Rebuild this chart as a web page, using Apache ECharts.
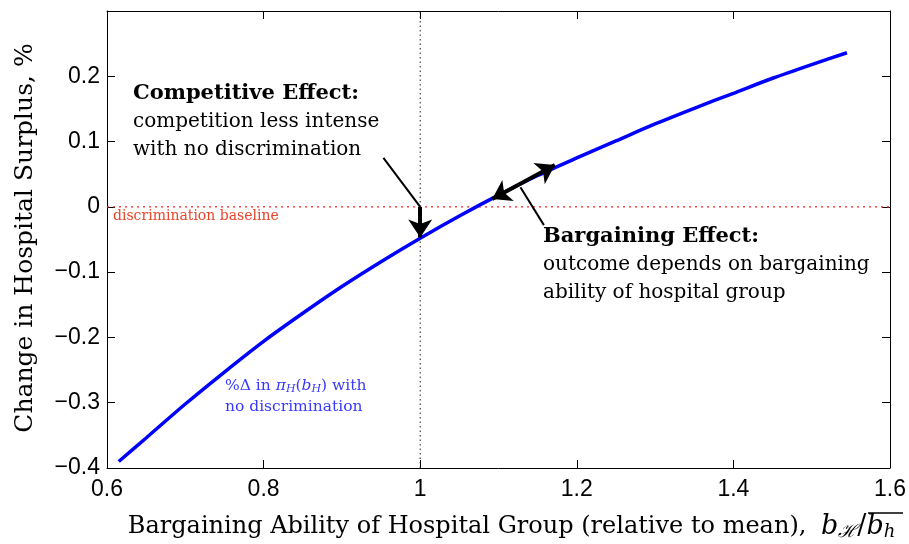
<!DOCTYPE html>
<html>
<head>
<meta charset="utf-8">
<script src="https://cdn.jsdelivr.net/npm/echarts@6/dist/echarts.min.js"></script>
<style>
  html, body { margin: 0; padding: 0; background: #fff; }
  #chart { width: 909px; height: 544px; }
</style>
</head>
<body>
<div id="chart"></div>
<script>
// Relative bargaining ability of the hospital group
var bargainingAbility = [0.615, 0.65, 0.70, 0.75, 0.80, 0.85, 0.90, 0.95, 1.00, 1.05,
                         1.10, 1.15, 1.20, 1.25, 1.30, 1.35, 1.40, 1.45, 1.50, 1.545];
// % change in hospital surplus with no discrimination
var surplusChange = [-0.390, -0.354, -0.302, -0.253, -0.206, -0.163, -0.122, -0.084, -0.048, -0.014,
                     0.018, 0.048, 0.075, 0.101, 0.127, 0.151, 0.174, 0.197, 0.218, 0.236];

// Axis ranges
var xRange = [0.6, 1.6];
var yRange = [-0.4, 0.3];

// Reference lines
var baselineY = 0;
var meanAbility = 1;

// Annotation pointers (data units): [from, to]
var competitivePointer = [[0.953, 0.075], [1.0, 0.0]];
var competitiveArrow = [[1.0, 0.0], [1.0, -0.047]];
var bargainingArrow = [[1.092, 0.012], [1.172, 0.064]];
var bargainingPointer = [[1.128, 0.030], [1.158, -0.028]];

var serif = '"DejaVu Serif", "Liberation Serif", serif';
var sans = '"Liberation Sans", Arial, sans-serif';

function fmt(v) {
  var r = Math.round(v * 10) / 10;
  var s = String(r);
  return r < 0 ? '\u2212' + s.slice(1) : s;
}

var chart = echarts.init(document.getElementById('chart'), null, { renderer: 'canvas' });

var axisLine = { show: true, onZero: false, lineStyle: { color: '#000', width: 1 } };
var tickIn = { show: true, inside: true, length: 8, lineStyle: { color: '#000', width: 1 } };

var option = {
  animation: false,
  backgroundColor: '#fff',
  grid: { left: 107, right: 19, top: 11, bottom: 76, containLabel: false },
  xAxis: [
    {
      type: 'value', position: 'bottom', min: xRange[0], max: xRange[1], interval: 0.2,
      axisLine: axisLine, axisTick: tickIn, splitLine: { show: false },
      axisLabel: { fontFamily: sans, fontSize: 23, color: '#000', margin: 10, formatter: fmt }
    },
    {
      type: 'value', position: 'top', min: xRange[0], max: xRange[1], interval: 0.2,
      axisLine: axisLine, axisTick: tickIn, splitLine: { show: false },
      axisLabel: { show: false }
    }
  ],
  yAxis: [
    {
      type: 'value', position: 'left', min: yRange[0], max: yRange[1], interval: 0.1,
      axisLine: axisLine, axisTick: tickIn, splitLine: { show: false },
      axisLabel: {
        fontFamily: sans, fontSize: 23, color: '#000', margin: 7,
        formatter: function (v) { return Math.abs(v - yRange[1]) < 1e-6 ? '' : fmt(v); }
      }
    },
    {
      type: 'value', position: 'right', min: yRange[0], max: yRange[1], interval: 0.1,
      axisLine: axisLine, axisTick: tickIn, splitLine: { show: false },
      axisLabel: { show: false }
    }
  ],
  series: [
    // discrimination baseline (red dotted)
    {
      type: 'line',
      data: [[xRange[0], baselineY], [xRange[1], baselineY]],
      showSymbol: false, silent: true, z: 1,
      lineStyle: { color: '#ff2020', type: [2, 4], width: 1.3 }
    },
    // mean bargaining ability (black dotted)
    {
      type: 'line',
      data: [[meanAbility, yRange[0]], [meanAbility, yRange[1]]],
      showSymbol: false, silent: true, z: 1,
      lineStyle: { color: '#222', type: [1.5, 3], width: 1 }
    },
    {
      type: 'line',
      data: bargainingAbility.map(function (x, i) { return [x, surplusChange[i]]; }),
      showSymbol: false,
      smooth: 0.3,
      lineStyle: { color: '#0000ff', width: 3.5 },
      z: 3
    },
    {
      type: 'lines',
      coordinateSystem: 'cartesian2d',
      z: 5,
      symbol: 'none',
      lineStyle: { color: '#000', width: 2, opacity: 1 },
      data: [
        { coords: competitivePointer },
        { coords: bargainingPointer }
      ]
    },
    {
      type: 'lines',
      coordinateSystem: 'cartesian2d',
      z: 6,
      symbol: ['none', 'arrow'],
      symbolSize: 18,
      lineStyle: { color: '#000', width: 4, opacity: 1 },
      data: [{ coords: competitiveArrow }]
    },
    {
      type: 'lines',
      coordinateSystem: 'cartesian2d',
      z: 6,
      symbol: ['arrow', 'arrow'],
      symbolSize: 18,
      lineStyle: { color: '#000', width: 4, opacity: 1 },
      data: [{ coords: bargainingArrow }]
    }
  ],
  graphic: [
    // Axis titles
    {
      type: 'text', x: 814, y: 527,
      style: {
        x: 0, y: 0, align: 'right', verticalAlign: 'middle',
        text: 'Bargaining Ability of Hospital Group (relative to mean), ',
        font: '24px ' + serif, fill: '#000'
      }
    },
    {
      type: 'text', x: 821, y: 527,
      style: {
        x: 0, y: 0, align: 'left', verticalAlign: 'middle',
        text: '{i|b}{s|\u210B}{n|/}{i|b}{s|h}',
        rich: {
          i: { font: 'italic 27px ' + serif, fill: '#000', lineHeight: 30 },
          n: { font: '27px ' + serif, fill: '#000', lineHeight: 30 },
          s: { font: 'italic 18px ' + serif, fill: '#000', lineHeight: 30, padding: [10, 0, 0, 0] }
        }
      }
    },
    {
      type: 'line', shape: { x1: 868, y1: 513, x2: 903, y2: 513 },
      style: { stroke: '#000', lineWidth: 1.5 }
    },
    {
      type: 'text', rotation: Math.PI / 2, x: 25, y: 238,
      style: {
        x: 0, y: 0, align: 'center', verticalAlign: 'middle',
        text: 'Change in Hospital Surplus, %',
        font: '25px ' + serif, fill: '#000'
      }
    },
    // Competitive effect note
    {
      type: 'text', x: 133, y: 80,
      style: {
        text: '{b|Competitive Effect:}\n{n|competition less intense}\n{n|with no discrimination}',
        rich: {
          b: { font: 'bold 21px ' + serif, fill: '#000', lineHeight: 28 },
          n: { font: '20px ' + serif, fill: '#000', lineHeight: 28 }
        }
      }
    },
    // Bargaining effect note
    {
      type: 'text', x: 543, y: 223,
      style: {
        text: '{b|Bargaining Effect:}\n{n|outcome depends on bargaining}\n{n|ability of hospital group}',
        rich: {
          b: { font: 'bold 21px ' + serif, fill: '#000', lineHeight: 28 },
          n: { font: '20px ' + serif, fill: '#000', lineHeight: 28 }
        }
      }
    },
    // Baseline label
    {
      type: 'text', x: 113, y: 209,
      style: { text: 'discrimination baseline', font: '14px ' + serif, fill: '#e8452c' }
    },
    // Curve label
    {
      type: 'text', x: 225, y: 375,
      style: {
        text: '{n|%\u0394 in }{i|\u03c0}{s|H}{n|(}{i|b}{s|H}{n|) with}\n{n|no discrimination}',
        rich: {
          n: { font: '15.5px ' + serif, fill: '#3838ff', lineHeight: 21 },
          i: { font: 'italic 15.5px ' + serif, fill: '#3838ff', lineHeight: 21 },
          s: { font: 'italic 11px ' + serif, fill: '#3838ff', lineHeight: 21, padding: [8, 0, 0, 0] }
        }
      }
    }
  ]
};

chart.setOption(option);
</script>
</body>
</html>
